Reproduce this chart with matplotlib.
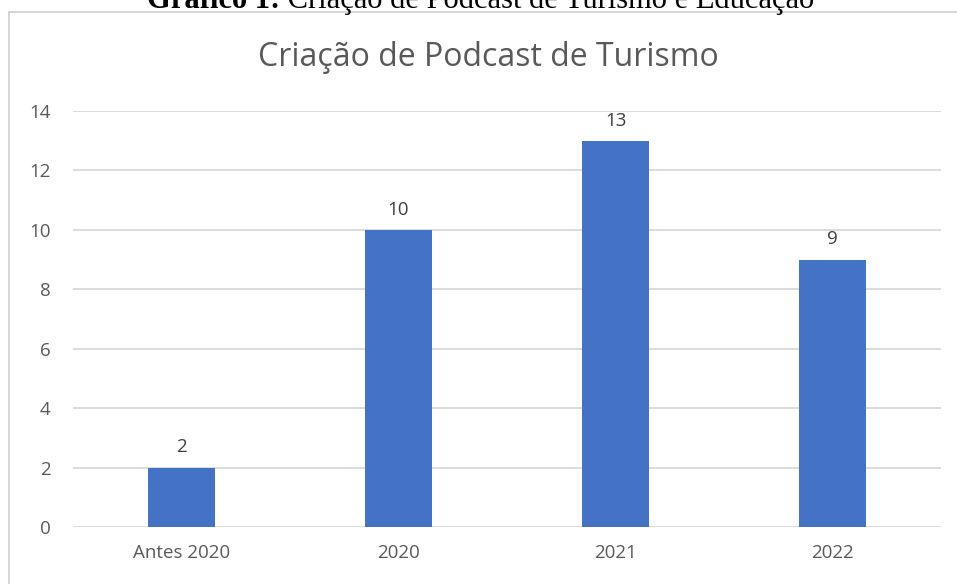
import matplotlib.pyplot as plt
from matplotlib.patches import Rectangle

# data
categorias = ['Antes 2020', '2020', '2021', '2022']
podcasts = [2, 10, 13, 9]
yticks = [0, 2, 4, 6, 8, 10, 12, 14]

W, H = 957, 584
fig = plt.figure(figsize=(W / 100, H / 100), dpi=100)
plt.rcParams['font.family'] = ['Open Sans', 'DejaVu Sans']

# outer chart border (Excel style, cut on right/bottom)
fig.patches.append(Rectangle((9 / W, -0.1), 1.0, 1 - 12 / H + 0.1,
                             transform=fig.transFigure, fill=False,
                             edgecolor='#d0d0d0', linewidth=1.2))

# caption from the document (cut at the top like the source image)
t1 = fig.text(147 / W, 1 - 8 / H, 'Gráfico 1:', ha='left', va='baseline',
              fontsize=22, family='Liberation Serif', weight='bold', color='black')
fig.canvas.draw()
bb = t1.get_window_extent()
fig.text(bb.x1 / W, 1 - 8 / H, ' Criação de Podcast de Turismo e Educação',
         ha='left', va='baseline', fontsize=22, family='Liberation Serif',
         color='black')

ax = fig.add_axes([73 / W, 57 / H, (941 - 73) / W, (527 - 111) / H])
x = range(len(categorias))
bars = ax.bar(x, podcasts, width=0.31, color='#4472C4', zorder=3)

for b, v in zip(bars, podcasts):
    ax.annotate(str(v), (b.get_x() + b.get_width() / 2, v), xytext=(0, 8),
                textcoords='offset points', ha='center', va='bottom',
                fontsize=13.5, color='#404040')

ax.set_xlim(-0.5, len(categorias) - 0.5)
ax.set_ylim(0, 14)
ax.set_yticks(yticks)
ax.set_xticks(list(x))
ax.set_xticklabels(categorias)
ax.tick_params(axis='both', length=0, labelsize=13.5, labelcolor='#595959')
ax.tick_params(axis='y', pad=16)
ax.tick_params(axis='x', pad=12)
ax.grid(axis='y', color='#d9d9d9', linewidth=1.3, zorder=0)
for s in ax.spines.values():
    s.set_visible(False)

fig.text(488 / W, 1 - 58 / H, 'Criação de Podcast de Turismo', ha='center',
         va='center', fontsize=23, color='#595959')

fig.savefig('out.png', dpi=100)
